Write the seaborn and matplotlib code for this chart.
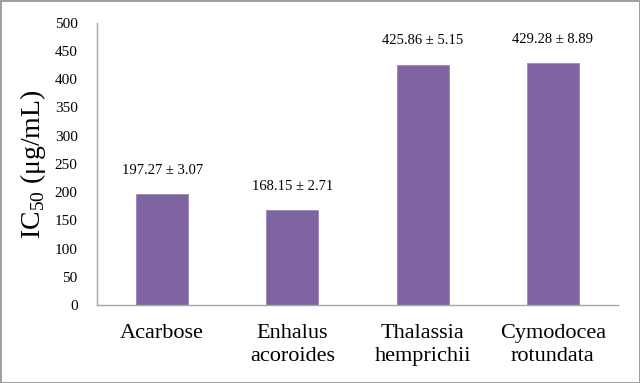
import matplotlib
matplotlib.use("Agg")
import matplotlib.pyplot as plt
import seaborn as sns

# Data
samples = ["Acarbose", "Enhalus\nacoroides", "Thalassia\nhemprichii", "Cymodocea\nrotundata"]
ic50_mean = [197.27, 168.15, 425.86, 429.28]
ic50_sd = [3.07, 2.71, 5.15, 8.89]
y_ticks = [0, 50, 100, 150, 200, 250, 300, 350, 400, 450, 500]

bar_color = "#8064A2"
axis_color = "#A6A6A6"

sns.set_style("white")
plt.rcParams["font.family"] = ["Liberation Serif", "DejaVu Serif"]
plt.rcParams["mathtext.fontset"] = "custom"
plt.rcParams["mathtext.rm"] = "Liberation Serif"
plt.rcParams["text.color"] = "black"
plt.rcParams["xtick.color"] = "black"
plt.rcParams["ytick.color"] = "black"
plt.rcParams["axes.labelcolor"] = "black"

fig = plt.figure(figsize=(6.4, 3.83), dpi=100)
fig.patch.set_edgecolor("#A0A0A0")
fig.patch.set_linewidth(2)
ax = fig.add_axes([0.1516, 0.2037, 0.814, 0.737])

sns.barplot(x=samples, y=ic50_mean, color=bar_color, width=0.4,
            saturation=1, edgecolor="#9A85B8", linewidth=0.6, ax=ax)

for i, (m, sd) in enumerate(zip(ic50_mean, ic50_sd)):
    ax.annotate(f"{m:.2f} \u00b1 {sd:.2f}", xy=(i, m), xytext=(0, 17),
                textcoords="offset points", ha="center", va="center",
                fontsize=10.5)

ax.set_xlim(-0.5, 3.5)
ax.set_ylim(0, 500)
ax.set_yticks(y_ticks)
ax.tick_params(axis="y", length=0, pad=14, labelsize=11)
ax.tick_params(axis="x", length=0, pad=14, labelsize=16)
for lbl in ax.get_xticklabels():
    lbl.set_linespacing(1.25)
ax.set_ylabel(r"IC$_{\mathrm{50}}$ ($\mathrm{\mu}$g/mL)", fontsize=20, labelpad=5)

for side in ["top", "right"]:
    ax.spines[side].set_visible(False)
for side in ["left", "bottom"]:
    ax.spines[side].set_color(axis_color)
    ax.spines[side].set_linewidth(1)

fig.savefig("out.png", dpi=100, edgecolor=fig.get_edgecolor())
